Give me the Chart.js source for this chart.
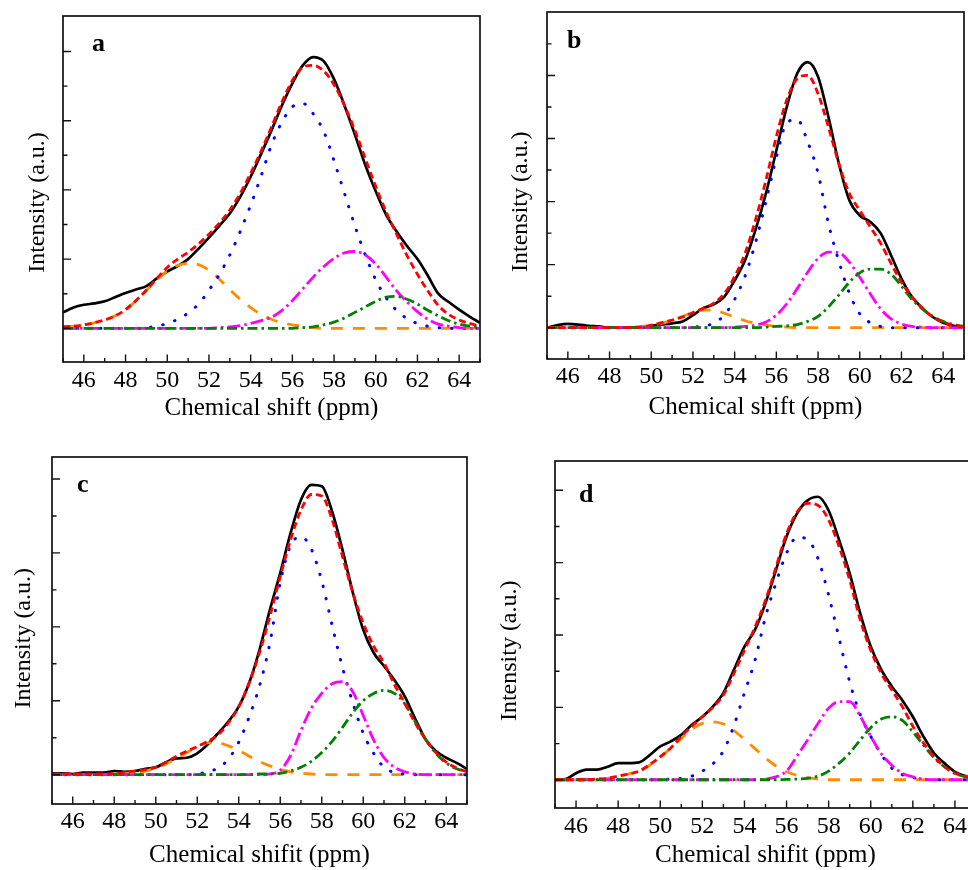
<!DOCTYPE html>
<html>
<head>
<meta charset="utf-8">
<script src="https://cdn.jsdelivr.net/npm/chart.js@4.4.1/dist/chart.umd.min.js"></script>
<style>
html,body{margin:0;padding:0;background:#fff;width:968px;height:870px;overflow:hidden;}
canvas{position:absolute;left:0;top:0;}
</style>
</head>
<body>
<canvas id="pa" width="1000" height="870"></canvas>
<canvas id="pb" width="1000" height="870"></canvas>
<canvas id="pc" width="1000" height="870"></canvas>
<canvas id="pd" width="1000" height="870"></canvas>
<script>
// ---------- data (chemical shift grid, ppm) ----------
const ppm = [45,45.5,46,46.5,47,47.5,48,48.5,49,49.5,50,50.5,51,51.5,52,52.5,53,53.5,54,54.5,55,55.5,56,56.5,57,57.5,58,58.5,59,59.5,60,60.5,61,61.5,62,62.5,63,63.5,64,64.5,65];
const xMajorTicks = [46,48,50,52,54,56,58,60,62,64];
const xMinorTicks = [45,47,49,51,53,55,57,59,61,63,65];

// panel a
const aExp = [0.23,0.30,0.34,0.36,0.39,0.45,0.51,0.56,0.61,0.72,0.82,0.90,1.00,1.15,1.31,1.48,1.66,1.90,2.19,2.52,2.86,3.22,3.54,3.80,3.92,3.86,3.60,3.22,2.80,2.36,1.98,1.64,1.40,1.19,1.00,0.76,0.50,0.38,0.27,0.17,0.08];
const aFit = [0.02,0.03,0.05,0.08,0.12,0.18,0.27,0.40,0.55,0.72,0.88,1.00,1.10,1.22,1.36,1.52,1.71,1.95,2.24,2.56,2.91,3.27,3.58,3.77,3.80,3.72,3.52,3.22,2.86,2.45,2.05,1.68,1.36,1.05,0.78,0.54,0.33,0.20,0.12,0.07,0.03];
const aP1 = [0.02,0.03,0.05,0.08,0.12,0.18,0.27,0.40,0.55,0.70,0.83,0.91,0.94,0.92,0.84,0.71,0.56,0.42,0.30,0.20,0.13,0.08,0.05,0.03,0.01,0,0,0,0,0,0,0,0,0,0,0,0,0,0,0,0];
const aP2 = [0,0,0,0,0,0,0,0,0.01,0.03,0.07,0.13,0.22,0.35,0.55,0.78,1.06,1.40,1.78,2.20,2.65,2.98,3.20,3.25,3.10,2.85,2.42,1.95,1.48,1.06,0.70,0.44,0.26,0.14,0.07,0.03,0.01,0,0,0,0];
const aP3 = [0,0,0,0,0,0,0,0,0,0,0,0,0,0,0,0.01,0.02,0.04,0.07,0.11,0.16,0.26,0.40,0.57,0.74,0.89,1.01,1.09,1.11,1.06,0.93,0.74,0.54,0.38,0.24,0.13,0.06,0.03,0.01,0,0];
const aP4 = [0,0,0,0,0,0,0,0,0,0,0,0,0,0,0,0,0,0,0,0,0,0,0,0.01,0.02,0.05,0.09,0.15,0.23,0.31,0.39,0.45,0.46,0.42,0.35,0.26,0.18,0.11,0.06,0.03,0.02];

// panel b
const bExp = [0,0.04,0.06,0.05,0.03,0.02,0,0,0,0.01,0.03,0.05,0.07,0.10,0.20,0.31,0.37,0.49,0.75,1.07,1.55,2.13,2.81,3.50,4.03,4.21,3.98,3.34,2.60,2.02,1.78,1.68,1.50,1.15,0.78,0.49,0.31,0.17,0.08,0.03,0.01];
const bFit = [0,0,0,0,0,0,0,0,0,0.01,0.04,0.08,0.12,0.17,0.24,0.31,0.39,0.54,0.81,1.18,1.71,2.34,3.03,3.61,3.95,4.00,3.71,3.18,2.60,2.13,1.86,1.60,1.34,1.02,0.72,0.49,0.31,0.17,0.09,0.04,0.01];
const bP1 = [0,0,0,0,0,0,0,0,0.01,0.02,0.04,0.07,0.12,0.18,0.24,0.28,0.28,0.23,0.17,0.11,0.07,0.04,0.02,0.01,0,0,0,0,0,0,0,0,0,0,0,0,0,0,0,0,0];
const bP2 = [0,0,0,0,0,0,0,0,0,0,0,0,0,0,0.01,0.03,0.07,0.20,0.45,0.82,1.35,2.00,2.70,3.25,3.30,2.95,2.45,1.65,1.05,0.55,0.22,0.08,0.02,0,0,0,0,0,0,0,0];
const bP3 = [0,0,0,0,0,0,0,0,0,0,0,0,0,0,0,0,0,0,0.01,0.02,0.04,0.09,0.20,0.38,0.62,0.88,1.10,1.20,1.19,1.04,0.80,0.54,0.30,0.14,0.06,0.02,0.01,0,0,0,0];
const bP4 = [0,0,0,0,0,0,0,0,0,0,0,0,0,0,0,0,0,0,0,0,0,0.01,0.02,0.03,0.05,0.10,0.18,0.33,0.52,0.72,0.87,0.93,0.93,0.85,0.66,0.45,0.30,0.18,0.10,0.05,0.02];

// panel c
const cExp = [0.02,0.02,0.01,0.03,0.03,0.03,0.05,0.04,0.05,0.08,0.10,0.17,0.22,0.23,0.29,0.41,0.56,0.72,0.92,1.24,1.69,2.23,2.73,3.27,3.72,3.92,3.90,3.56,3.04,2.46,1.96,1.65,1.47,1.28,1.06,0.76,0.48,0.32,0.23,0.16,0.08];
const cFit = [0.01,0.01,0.01,0.01,0.01,0.01,0.01,0.03,0.05,0.07,0.10,0.17,0.25,0.32,0.38,0.45,0.54,0.70,0.92,1.24,1.65,2.14,2.68,3.18,3.58,3.79,3.77,3.45,2.95,2.46,2.05,1.74,1.51,1.22,0.97,0.70,0.48,0.30,0.17,0.09,0.04];
const cP1 = [0,0,0,0,0,0,0.01,0.02,0.03,0.05,0.09,0.15,0.22,0.30,0.38,0.43,0.43,0.39,0.33,0.25,0.18,0.12,0.07,0.04,0.02,0.01,0,0,0,0,0,0,0,0,0,0,0,0,0,0,0];
const cP2 = [0,0,0,0,0,0,0,0,0,0,0,0,0,0,0.01,0.04,0.09,0.21,0.44,0.78,1.20,1.78,2.60,3.10,3.22,3.05,2.62,2.02,1.45,0.97,0.56,0.29,0.10,0.03,0.01,0,0,0,0,0,0];
const cP3 = [0,0,0,0,0,0,0,0,0,0,0,0,0,0,0,0,0,0,0,0,0,0.01,0.06,0.26,0.60,0.90,1.10,1.23,1.26,1.12,0.80,0.47,0.23,0.10,0.04,0.01,0,0,0,0,0];
const cP4 = [0,0,0,0,0,0,0,0,0,0,0,0,0,0,0,0,0,0,0,0,0.01,0.01,0.02,0.05,0.10,0.18,0.30,0.45,0.64,0.84,1.00,1.10,1.14,1.10,0.96,0.72,0.48,0.29,0.16,0.08,0.04];

// panel d
const dExp = [0,0.01,0.09,0.14,0.14,0.18,0.23,0.23,0.24,0.34,0.46,0.53,0.62,0.76,0.87,1.01,1.20,1.52,1.84,2.07,2.44,2.90,3.36,3.68,3.86,3.91,3.72,3.31,2.85,2.30,1.84,1.52,1.29,1.10,0.87,0.60,0.37,0.23,0.11,0.05,0.01];
const dFit = [0,0,0,0,0.01,0.02,0.05,0.08,0.12,0.21,0.32,0.44,0.60,0.74,0.87,1.00,1.17,1.47,1.79,2.11,2.48,2.94,3.40,3.70,3.82,3.79,3.59,3.22,2.76,2.21,1.79,1.47,1.24,1.01,0.74,0.51,0.32,0.18,0.09,0.05,0.02];
const dP1 = [0,0,0.005,0.01,0.01,0.02,0.05,0.08,0.12,0.20,0.31,0.44,0.57,0.70,0.78,0.80,0.77,0.68,0.56,0.43,0.30,0.19,0.11,0.06,0.03,0.01,0,0,0,0,0,0,0,0,0,0,0,0,0,0,0];
const dP2 = [0,0,0,0,0,0,0,0,0,0,0,0.01,0.02,0.05,0.12,0.22,0.40,0.75,1.20,1.65,2.25,2.72,3.13,3.35,3.32,3.05,2.55,1.95,1.35,0.90,0.60,0.35,0.16,0.07,0.03,0.01,0,0,0,0,0];
const dP3 = [0,0,0,0,0,0,0,0,0,0,0,0,0,0,0,0,0,0,0,0,0.01,0.04,0.12,0.33,0.55,0.78,0.99,1.08,1.08,0.88,0.60,0.36,0.20,0.09,0.04,0.01,0,0,0,0,0];
const dP4 = [0,0,0,0,0,0,0,0,0,0,0,0,0,0,0,0,0,0,0,0,0,0,0.005,0.01,0.02,0.05,0.12,0.23,0.37,0.55,0.72,0.84,0.87,0.82,0.66,0.48,0.31,0.18,0.09,0.04,0.02];

// ---------- layout / style ----------
const SERIF = "'Liberation Serif','Times New Roman',serif";
Chart.defaults.font.family = SERIF;
Chart.defaults.color = '#000';

const panels = [
  {id:'pa', letter:'a', xTitle:'Chemical shift (ppm)', area:{l:63,t:16,r:480,b:362}, titleMid:408.6, tickPad:4.4,
   yMin:-0.487, yMax:4.513, yMajor:[0,1,2,3,4], yMinor:[0.5,1.5,2.5,3.5],
   letterAt:[92,51], yTitleAt:[37.5,202.5], s:[aExp,aFit,aP1,aP2,aP3,aP4]},
  {id:'pb', letter:'b', xTitle:'Chemical shift (ppm)', area:{l:547,t:12,r:964,b:359}, titleMid:407.6, tickPad:3.1,
   yMin:-0.496, yMax:5.006, yMajor:[0,1,2,3,4], yMinor:[0.5,1.5,2.5,3.5,4.5],
   letterAt:[567,48], yTitleAt:[521,201.7], s:[bExp,bFit,bP1,bP2,bP3,bP4]},
  {id:'pc', letter:'c', xTitle:'Chemical shifit (ppm)', area:{l:52,t:457,r:467,b:804}, titleMid:855.5, tickPad:3.6,
   yMin:-0.396, yMax:4.297, yMajor:[0,1,2,3,4], yMinor:[0.5,1.5,2.5,3.5],
   letterAt:[77,491.5], yTitleAt:[23.5,638.3], s:[cExp,cFit,cP1,cP2,cP3,cP4]},
  {id:'pd', letter:'d', xTitle:'Chemical shifit (ppm)', area:{l:555,t:461,r:976,b:808}, titleMid:855.6, tickPad:4,
   yMin:-0.39, yMax:4.404, yMajor:[0,1,2,3,4], yMinor:[0.5,1.5,2.5,3.5],
   letterAt:[579,501.5], yTitleAt:[510,650.8], s:[dExp,dFit,dP1,dP2,dP3,dP4]}
];

const styles = [
  {color:'#000000', width:2.7, dash:[], cap:'butt'},              // experimental
  {color:'#ff0000', width:2.8, dash:[7,4], cap:'butt'},           // fit sum
  {color:'#ff8c00', width:2.8, dash:[12,10], cap:'butt'},         // peak 1
  {color:'#0000ff', width:3.0, dash:[0.5,12], cap:'round'},       // peak 2
  {color:'#ff00ff', width:2.8, dash:[13,4,2.5,4], cap:'butt'},    // peak 3
  {color:'#008000', width:2.8, dash:[10,4,2.5,4], cap:'butt'}     // peak 4
];
const drawOrder = [1,5,4,3,2,0]; // first = on top

const decor = {
  id:'decor',
  afterDatasetsDraw(chart, args, o) {
    const {ctx, chartArea:a, scales:{x, y}} = chart;
    ctx.save();
    ctx.strokeStyle = '#111';
    ctx.lineWidth = 1.7;
    ctx.strokeRect(a.left, a.top, a.right - a.left, a.bottom - a.top);
    ctx.lineWidth = 1.4;
    ctx.beginPath();
    xMajorTicks.forEach(v => { const p = x.getPixelForValue(v); ctx.moveTo(p, a.bottom); ctx.lineTo(p, a.bottom - 7.5); });
    xMinorTicks.forEach(v => { const p = x.getPixelForValue(v); ctx.moveTo(p, a.bottom); ctx.lineTo(p, a.bottom - 4); });
    o.yMajor.forEach(v => { const p = y.getPixelForValue(v); ctx.moveTo(a.left, p); ctx.lineTo(a.left + 8, p); });
    o.yMinor.forEach(v => { const p = y.getPixelForValue(v); ctx.moveTo(a.left, p); ctx.lineTo(a.left + 4.5, p); });
    ctx.stroke();
    ctx.fillStyle = '#000';
    ctx.font = 'bold 26px ' + SERIF;
    ctx.textAlign = 'left';
    ctx.textBaseline = 'alphabetic';
    ctx.fillText(o.letter, o.letterAt[0], o.letterAt[1]);
    ctx.font = '24px ' + SERIF;
    ctx.textAlign = 'center';
    ctx.textBaseline = 'middle';
    ctx.translate(o.yTitleAt[0], o.yTitleAt[1]);
    ctx.rotate(-Math.PI / 2);
    ctx.fillText('Intensity (a.u.)', 0, 0);
    ctx.restore();
  }
};

panels.forEach(P => {
  const W = 1000, H = 870;
  const scaleBottom = P.titleMid + 15;
  const datasets = drawOrder.map(k => ({
    data: ppm.map((v, i) => ({x: v, y: P.s[k][i]})),
    borderColor: styles[k].color,
    borderWidth: styles[k].width,
    borderDash: styles[k].dash,
    borderCapStyle: styles[k].cap,
    pointRadius: 0,
    fill: false,
    cubicInterpolationMode: 'monotone'
  }));
  new Chart(document.getElementById(P.id), {
    type: 'line',
    data: {datasets},
    options: {
      responsive: false,
      animation: false,
      events: [],
      layout: {padding: {left: 0, top: P.area.t, right: W - P.area.r, bottom: H - scaleBottom}},
      plugins: {
        legend: {display: false},
        tooltip: {enabled: false},
        decor: {letter: P.letter, letterAt: P.letterAt, yTitleAt: P.yTitleAt, yMajor: P.yMajor, yMinor: P.yMinor}
      },
      scales: {
        x: {
          type: 'linear', min: 45, max: 65,
          grid: {display: false, drawTicks: false},
          border: {display: false},
          afterBuildTicks: s => { s.ticks = xMajorTicks.map(v => ({value: v})); },
          afterFit: s => { s.height = scaleBottom - P.area.b; },
          ticks: {font: {size: 24, family: SERIF}, color: '#000', padding: P.tickPad, maxRotation: 0, autoSkip: false,
                  callback: v => String(v)},
          title: {display: true, text: P.xTitle, color: '#000', font: {size: 25, family: SERIF}, padding: {top: 0, bottom: 0}}
        },
        y: {
          type: 'linear', min: P.yMin, max: P.yMax,
          grid: {display: false, drawTicks: false},
          border: {display: false},
          ticks: {display: false},
          afterFit: s => { s.width = P.area.l; }
        }
      }
    },
    plugins: [decor]
  });
});
</script>
</body>
</html>
